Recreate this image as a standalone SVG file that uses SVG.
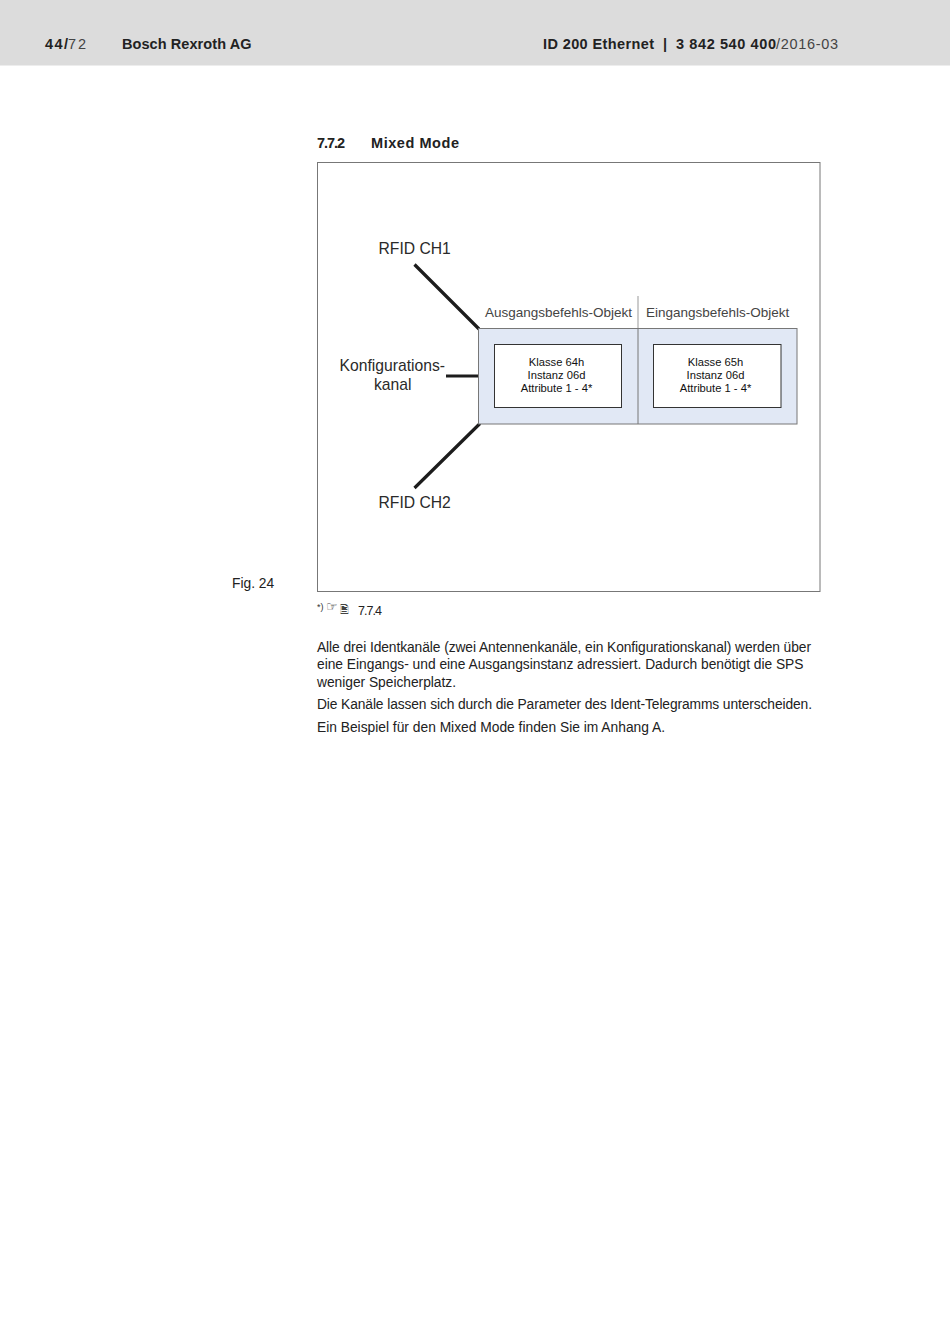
<svg xmlns="http://www.w3.org/2000/svg" width="950" height="1343" viewBox="0 0 950 1343">
<style>
.b{font-family:"Liberation Sans",Arial,sans-serif;fill:#222}
.h{font-size:14.5px;font-weight:700}
.r{font-weight:400;fill:#444}
.t{font-size:13.8px;font-family:"Liberation Sans",Arial,sans-serif;fill:#222}
.l{font-size:15.7px;font-family:"Liberation Sans",Arial,sans-serif;fill:#2a2a2a}
.o{font-size:13.5px;font-family:"Liberation Sans",Arial,sans-serif;fill:#444}
.i{font-size:11.2px;font-family:"Liberation Sans",Arial,sans-serif;fill:#111;text-anchor:middle}
.c{stroke:#1c1c1c;stroke-width:3.2;fill:none}
.box{fill:#fff;stroke:#333;stroke-width:1}
</style>
<rect width="950" height="1343" fill="#fff"/>
<rect width="950" height="65.500" fill="#dcdcdc"/>
<text class="b h" x="45" y="49" textLength="23" lengthAdjust="spacing">44/</text>
<text class="b h r" x="68" y="49" textLength="18" lengthAdjust="spacing">72</text>
<text class="b h" x="122" y="49" textLength="129.500" lengthAdjust="spacing">Bosch Rexroth AG</text>
<text class="b h" x="543" y="49" textLength="111" lengthAdjust="spacing">ID 200 Ethernet</text>
<text class="b h" x="663" y="49">|</text>
<text class="b h" x="676" y="49" textLength="100" lengthAdjust="spacing">3 842 540 400</text>
<text class="b h r" x="776" y="49" textLength="62" lengthAdjust="spacing">/2016-03</text>
<text class="b h" x="317" y="148" textLength="28" lengthAdjust="spacing">7.7.2</text>
<text class="b h" x="371" y="148" textLength="88" lengthAdjust="spacing">Mixed Mode</text>
<rect x="317.500" y="162.500" width="502.500" height="429" fill="#fff" stroke="#777" stroke-width="1"/>
<g id="connectors">
<path class="c" d="M414.500 264.500L479 329M446 376H479M414.500 488L480 423.500"/>
<path d="M638 296V329" stroke="#999" stroke-width="1"/>
</g>
<g id="panel">
<rect x="478.500" y="328.500" width="318.500" height="95.500" fill="#e1e8f5" stroke="#777" stroke-width="1"/>
<path d="M638 329V424" stroke="#777" stroke-width="1"/>
</g>
<g id="node-out">
<rect class="box" x="494.500" y="344.500" width="127" height="63"/>
<text class="i" x="556.500" y="366">Klasse 64h</text>
<text class="i" x="556.500" y="379">Instanz 06d</text>
<text class="i" x="556.500" y="392">Attribute 1 - 4*</text>
</g>
<g id="node-in">
<rect class="box" x="653.500" y="344.500" width="127.500" height="63"/>
<text class="i" x="715.500" y="366">Klasse 65h</text>
<text class="i" x="715.500" y="379">Instanz 06d</text>
<text class="i" x="715.500" y="392">Attribute 1 - 4*</text>
</g>
<text class="l" x="378.500" y="253.500">RFID CH1</text>
<text class="l" x="339.500" y="371">Konfigurations-</text>
<text class="l" x="374" y="390">kanal</text>
<text class="l" x="378.500" y="507.500">RFID CH2</text>
<text class="o" x="485" y="316.500">Ausgangsbefehls-Objekt</text>
<text class="o" x="646" y="316.500">Eingangsbefehls-Objekt</text>
<text class="t" x="232" y="588" font-size="14">Fig. 24</text>
<text x="317" y="610" font-size="9" font-family="Liberation Sans,sans-serif" fill="#333">*)</text>
<text x="326" y="611" font-size="13" font-family="DejaVu Sans,sans-serif" fill="#444">☞</text>
<text x="340" y="613" font-size="11" font-family="DejaVu Sans,'Noto Sans',sans-serif" fill="#444">🖹</text>
<text class="b" x="358" y="614.500" font-size="12.500" textLength="24" lengthAdjust="spacing">7.7.4</text>
<text class="t" x="317" y="651.500" textLength="494" lengthAdjust="spacing">Alle drei Identkanäle (zwei Antennenkanäle, ein Konfigurationskanal) werden über</text>
<text class="t" x="317" y="669" textLength="486.500" lengthAdjust="spacing">eine Eingangs- und eine Ausgangsinstanz adressiert. Dadurch benötigt die SPS</text>
<text class="t" x="317" y="686.500" textLength="139" lengthAdjust="spacing">weniger Speicherplatz.</text>
<text class="t" x="317" y="709" textLength="495" lengthAdjust="spacing">Die Kanäle lassen sich durch die Parameter des Ident-Telegramms unterscheiden.</text>
<text class="t" x="317" y="731.500" textLength="348" lengthAdjust="spacing">Ein Beispiel für den Mixed Mode finden Sie im Anhang A.</text>
</svg>
